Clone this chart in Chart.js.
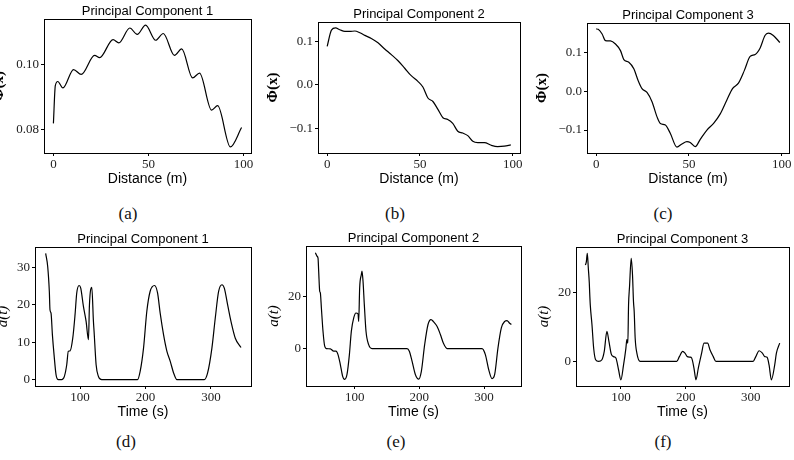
<!DOCTYPE html>
<html>
<head>
<meta charset="utf-8">
<script src="https://cdn.jsdelivr.net/npm/chart.js@4.4.0/dist/chart.umd.min.js"></script>
<style>
  body { margin: 0; width: 794px; height: 460px; background: #fff; position: relative; overflow: hidden; }
  canvas { position: absolute; }
  .cap { position: absolute; font: 17px "Liberation Serif"; color: #111; transform: translate(-50%, -50%); white-space: nowrap; }
</style>
</head>
<body>
<script>
// tick labels
var distTicks = [0, 50, 100];
var timeTicks = [100, 200, 300];
var phi1Ticks = [0.08, 0.10];
var phi2Ticks = [-0.1, 0.0, 0.1];
var phi3Ticks = [-0.1, 0.0, 0.1];
var amp1Ticks = [0, 10, 20, 30];
var amp2Ticks = [0, 20];
var amp3Ticks = [0, 20];

// spatial modes Phi(x), distance in m
var phi1X = [0, 1, 2.3, 5, 10.6, 14.6, 21.7, 24.3, 31.4, 34.4, 40.2, 44.1, 48.5, 53.8, 57.8, 63.7, 67.5, 73.2, 76.9, 83.2, 86.4, 93.1, 99];
var phi1Y = [0.0818, 0.0935, 0.0948, 0.0928, 0.0985, 0.0970, 0.1029, 0.1022, 0.1078, 0.1068, 0.1114, 0.1094, 0.1123, 0.1076, 0.1097, 0.1029, 0.1049, 0.0959, 0.0974, 0.0859, 0.0873, 0.0745, 0.0805];

var phi2X = [0, 2.3, 4.5, 6.8, 9.5, 12.2, 14.9, 17.6, 20.3, 23.8, 27.4, 31, 34.6, 38.2, 41.8, 45.3, 48.9, 51.6, 54.3, 57, 59.7, 62.4, 65, 67.7, 70.4, 73.1, 75.8, 78.5, 81.2, 84.8, 88.4, 91.9, 95.5, 99];
var phi2Y = [0.088, 0.125, 0.130, 0.126, 0.122, 0.122, 0.123, 0.119, 0.113, 0.106, 0.096, 0.082, 0.069, 0.055, 0.038, 0.021, 0.008, -0.005, -0.030, -0.038, -0.056, -0.075, -0.079, -0.088, -0.106, -0.110, -0.116, -0.129, -0.132, -0.132, -0.138, -0.141, -0.140, -0.137];

var phi3X = [0, 1.1, 3.2, 5, 7.7, 10.4, 13.1, 14.9, 17.6, 20.3, 22.6, 24.7, 27.4, 30.1, 32.8, 34.6, 37.3, 40, 43.5, 46.2, 48.9, 50.7, 53.4, 56.1, 59.7, 63.3, 66.8, 70.4, 73.5, 76.7, 79.9, 83, 85.7, 88.4, 91, 92.8, 95.5, 99];
var phi3Y = [0.161, 0.160, 0.148, 0.131, 0.130, 0.122, 0.105, 0.082, 0.075, 0.058, 0.028, 0.007, -0.003, -0.027, -0.066, -0.083, -0.087, -0.109, -0.144, -0.136, -0.130, -0.132, -0.143, -0.124, -0.100, -0.083, -0.059, -0.023, 0.007, 0.021, 0.054, 0.090, 0.095, 0.112, 0.144, 0.150, 0.144, 0.126];

// temporal coefficients a(t), time in s
var amp1T = [47.4, 50.5, 53, 54, 55.6, 57.7, 60.2, 63.3, 66.8, 71.9, 76, 79.6, 82, 84.7, 88.8, 92.3, 94.9, 98.5, 101, 105.1, 109.2, 112.8, 114.3, 117.9, 120.4, 121.4, 124.5, 128, 133, 187.8, 191.8, 197, 202, 207, 213.8, 218.4, 222.4, 227.6, 232.7, 237.8, 242.9, 248, 289.8, 294.9, 301.5, 306.6, 311.7, 316.8, 320.4, 325.5, 330.6, 337.2, 345.9];
var amp1Y = [33.8, 30.3, 23.6, 18.7, 17.8, 12, 6.7, 1.3, 0, 0, 0.9, 4, 7.6, 7.7, 11.1, 17.4, 23.2, 25.2, 24.5, 19.6, 15.6, 10.7, 20, 24.7, 15.6, 12.9, 4, 0.9, 0, 0, 2.2, 8.5, 18.3, 23.6, 25.2, 23.2, 17.8, 12, 7.6, 4.9, 1.8, 0, 0, 1.8, 8.5, 16.5, 23.6, 25.4, 24.5, 20, 15.6, 11.1, 8.6];

var amp2T = [39.2, 41.8, 43.3, 44.3, 45.9, 46.9, 48.5, 51, 53.6, 56.2, 62.4, 67.5, 71.1, 74.2, 77.8, 81.4, 84.5, 88.1, 91.8, 94.8, 98.5, 102, 105.2, 106.2, 107.7, 110.3, 111.3, 112.9, 114.9, 117.5, 121.6, 126.8, 180.9, 184.5, 188.7, 193.8, 199, 203.1, 208.2, 213.4, 218, 222.2, 227.3, 232.5, 237.6, 242.8, 296.9, 302.1, 307.2, 312.4, 316.5, 321.6, 326.8, 332, 335.6, 339.2, 342.3];
var amp2Y = [36.6, 35.3, 34.6, 29.6, 21.9, 21.3, 15.5, 6.6, 0.9, 0, -0.1, -1, -1, -2.3, -6.1, -10.6, -11.8, -9.9, -2.3, 6.6, 11.7, 13.6, 13.2, 10.4, 23.2, 28.3, 29.6, 25.7, 16.8, 6.6, 1.5, 0, 0, -1, -4.8, -9.9, -11.7, -8.7, 1.5, 9.2, 11.1, 10.2, 8.5, 5.4, 1.8, 0, 0, -2.3, -8, -11.5, -9.9, 0.3, 7.9, 10.4, 10.7, 9.8, 9.2];

var amp3T = [45.3, 46.8, 48.3, 49.9, 51.4, 51.9, 52.9, 55.5, 58.1, 61.1, 65.7, 70.8, 74.4, 78.5, 81.6, 85.2, 88.7, 92.3, 96.4, 100, 104.1, 107.7, 109.2, 110.7, 111.8, 113.3, 115.9, 117.9, 119.4, 120.5, 122, 124.6, 129.7, 185.9, 190, 195.1, 198.7, 202.3, 206.4, 208.9, 212.5, 215.6, 219.2, 224.3, 227.9, 233.5, 237.1, 242.2, 246.3, 303.6, 307.7, 312.8, 317.9, 321.5, 325.1, 328.1, 331.7, 336.8, 339.4, 344.5];
var amp3Y = [27.9, 28.8, 31.25, 26.9, 22.6, 20.2, 16.3, 10.6, 3.8, 0.5, 0, 0.5, 2.9, 8.7, 5.8, 2.1, 1.4, 1, -2.4, -5.3, -1, 3.8, 6.3, 5.3, 16.3, 21.6, 29.8, 25, 17.3, 14.4, 6.7, 2.4, 0, 0, 1.4, 2.9, 2.4, 1.4, 1.25, 1, -1.9, -5.3, -1.9, 2.4, 5.3, 5.3, 3.4, 1.4, 0, 0, 1.4, 3.1, 2.4, 1.4, 1.2, -1, -5.3, -1, 2.4, 5.3];

var sans = '"Liberation Sans", Arial, sans-serif';
var serif = '"Liberation Serif", "Times New Roman", serif';

// draws the closed box around the plot area, like matplotlib spines
var framePlugin = {
    id: 'frame',
    afterDraw: function (chart) {
        var a = chart.chartArea;
        var ctx = chart.ctx;
        ctx.save();
        ctx.strokeStyle = '#000';
        ctx.lineWidth = 1;
        ctx.strokeRect(Math.round(a.left) + 0.5, Math.round(a.top) + 0.5, Math.round(a.right - a.left), Math.round(a.bottom - a.top));
        ctx.restore();
    }
};

function fmtMinus(v, digits) {
    return v.toFixed(digits).replace('-', '\u2212');
}

function makePanel(p) {
    var boxW = p.box[1] - p.box[0];
    var boxH = p.box[3] - p.box[2];
    var topH = 18, xAxisH = 36, padR = 10, padB = 4;
    var canvas = document.createElement('canvas');
    canvas.width = boxW + p.yw + padR;
    canvas.height = topH + boxH + xAxisH + padB;
    canvas.style.left = (p.box[0] - p.yw) + 'px';
    canvas.style.top = (p.box[2] - topH) + 'px';
    document.body.appendChild(canvas);

    var cap = document.createElement('div');
    cap.className = 'cap';
    cap.textContent = p.caption;
    cap.style.left = p.capPos[0] + 'px';
    cap.style.top = p.capPos[1] + 'px';
    document.body.appendChild(cap);

    var points = p.xs.map(function (x, i) { return { x: x, y: p.ys[i] }; });

    new Chart(canvas, {
        type: 'line',
        data: {
            datasets: [{
                data: points,
                borderColor: '#000',
                borderWidth: 1.2,
                pointRadius: 0,
                fill: false,
                cubicInterpolationMode: 'monotone'
            }]
        },
        options: {
            responsive: false,
            animation: false,
            layout: { autoPadding: false, padding: { left: 0, right: padR, top: 2, bottom: padB } },
            plugins: {
                legend: { display: false },
                tooltip: { enabled: false },
                title: {
                    display: true,
                    fullSize: false,
                    text: p.title,
                    color: '#000',
                    font: { family: sans, size: 13, weight: 'normal', lineHeight: '16px' },
                    padding: { top: 0, bottom: 0 }
                }
            },
            scales: {
                x: {
                    type: 'linear',
                    min: p.xr[0],
                    max: p.xr[1],
                    afterBuildTicks: function (s) { s.ticks = p.xTicks.map(function (v) { return { value: v }; }); },
                    afterFit: function (s) { s.height = xAxisH; },
                    ticks: { color: '#222', padding: 1, maxRotation: 0, autoSkip: false, font: { family: serif, size: 13 } },
                    grid: { drawOnChartArea: false, drawTicks: true, tickLength: 3, tickColor: '#000' },
                    border: { color: '#000', width: 1 },
                    title: {
                        display: true,
                        text: p.xTitle,
                        color: '#000',
                        font: { family: sans, size: 14, lineHeight: '16px' },
                        padding: { top: 0, bottom: 2 }
                    }
                },
                y: {
                    type: 'linear',
                    min: p.yr[0],
                    max: p.yr[1],
                    afterBuildTicks: function (s) { s.ticks = p.yTicks.map(function (v) { return { value: v }; }); },
                    afterFit: function (s) { s.width = p.yw; },
                    ticks: {
                        color: '#222', padding: 2, font: { family: serif, size: 13 },
                        callback: p.fmt
                    },
                    grid: { drawOnChartArea: false, drawTicks: true, tickLength: 3, tickColor: '#000' },
                    border: { color: '#000', width: 1 },
                    title: {
                        display: true,
                        text: p.yTitle,
                        color: '#000',
                        font: p.yFont,
                        padding: { top: 0, bottom: 0 }
                    }
                }
            }
        },
        plugins: [framePlugin]
    });
}

var phiFont = { family: serif, size: 15, weight: 'bold', lineHeight: '16px' };
var ampFont = { family: serif, size: 15, style: 'italic', lineHeight: '16px' };

makePanel({ box: [44, 251, 19, 153], yw: 53, xs: phi1X, ys: phi1Y, xr: [-4.95, 103.95], yr: [0.0726, 0.1142],
    xTicks: distTicks, yTicks: phi1Ticks, fmt: function (v) { return v.toFixed(2); },
    title: 'Principal Component 1', xTitle: 'Distance (m)', yTitle: '\u03A6(x)', yFont: phiFont, caption: '(a)', capPos: [128, 214] });
makePanel({ box: [318, 520, 22, 153], yw: 53, xs: phi2X, ys: phi2Y, xr: [-4.95, 103.95], yr: [-0.1556, 0.1436],
    xTicks: distTicks, yTicks: phi2Ticks, fmt: function (v) { return fmtMinus(v, 1); },
    title: 'Principal Component 2', xTitle: 'Distance (m)', yTitle: '\u03A6(x)', yFont: phiFont, caption: '(b)', capPos: [395, 214] });
makePanel({ box: [587, 789, 23, 153], yw: 53, xs: phi3X, ys: phi3Y, xr: [-4.95, 103.95], yr: [-0.1593, 0.1763],
    xTicks: distTicks, yTicks: phi3Ticks, fmt: function (v) { return fmtMinus(v, 1); },
    title: 'Principal Component 3', xTitle: 'Distance (m)', yTitle: '\u03A6(x)', yFont: phiFont, caption: '(c)', capPos: [663, 214] });

makePanel({ box: [35, 251, 247, 386], yw: 40, xs: amp1T, ys: amp1Y, xr: [31.1, 361.2], yr: [-1.69, 35.5],
    xTicks: timeTicks, yTicks: amp1Ticks, fmt: function (v) { return String(v); },
    title: 'Principal Component 1', xTitle: 'Time (s)', yTitle: 'a(t)', yFont: ampFont, caption: '(d)', capPos: [126, 442] });
makePanel({ box: [306, 521, 246, 386], yw: 40, xs: amp2T, ys: amp2Y, xr: [24.7, 357.2], yr: [-14.3, 39.2],
    xTicks: timeTicks, yTicks: amp2Ticks, fmt: function (v) { return String(v); },
    title: 'Principal Component 2', xTitle: 'Time (s)', yTitle: 'a(t)', yFont: ampFont, caption: '(e)', capPos: [396, 442] });
makePanel({ box: [576, 789, 247, 386], yw: 40, xs: amp3T, ys: amp3Y, xr: [30.9, 358.8], yr: [-7.1, 33.1],
    xTicks: timeTicks, yTicks: amp3Ticks, fmt: function (v) { return String(v); },
    title: 'Principal Component 3', xTitle: 'Time (s)', yTitle: 'a(t)', yFont: ampFont, caption: '(f)', capPos: [663, 442] });
</script>
</body>
</html>
